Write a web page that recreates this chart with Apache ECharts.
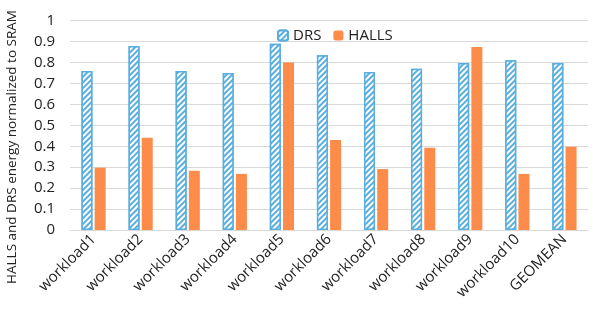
<!DOCTYPE html>
<html><head><meta charset="utf-8">
<script src="https://cdn.jsdelivr.net/npm/echarts@6/dist/echarts.min.js"></script>
<style>html,body{margin:0;padding:0;background:#fff}#c{width:604px;height:314px}</style>
</head><body><div id="c"></div>
<script>
const categories = ['workload1','workload2','workload3','workload4','workload5','workload6','workload7','workload8','workload9','workload10','GEOMEAN'];
const drsValues = [0.76,0.879,0.76,0.75,0.89,0.835,0.755,0.77,0.798,0.811,0.798];
const hallsValues = [0.298,0.441,0.283,0.268,0.80,0.43,0.291,0.393,0.874,0.268,0.398];
const yTicks = [0,0.1,0.2,0.3,0.4,0.5,0.6,0.7,0.8,0.9,1];
const yTitle = 'HALLS and DRS energy normalized to SRAM';

const font = 'Open Sans';
const chart = echarts.init(document.getElementById('c'), null, {renderer:'canvas'});
chart.setOption({
  animation:false,
  textStyle:{fontFamily:font},
  legend:{
    top:23, left:272, itemWidth:10, itemHeight:10, itemGap:12,
    textStyle:{fontSize:15, color:'#222', fontFamily:font},
    data:['DRS','HALLS']
  },
  grid:{left:70, right:16, top:20.7, bottom:84, containLabel:false},
  xAxis:{
    type:'category', data:categories,
    axisLine:{lineStyle:{color:'#d9d9d9', width:1}},
    axisTick:{show:false},
    axisLabel:{rotate:45, fontSize:15, color:'#222', margin:7, interval:0, fontFamily:font}
  },
  yAxis:{
    type:'value', min:0, max:1, interval:0.1,
    axisLine:{show:false}, axisTick:{show:false},
    splitLine:{lineStyle:{color:'#d9d9d9', width:1}},
    axisLabel:{fontSize:15, color:'#222', margin:15, fontFamily:font,
      formatter:v=>{const t=yTicks.find(x=>Math.abs(x-v)<1e-9);return t===undefined?'':String(t);}}
  },
  graphic:[{type:'text', x:12, y:147, rotation:Math.PI/2,
    style:{text:yTitle, fontSize:13.5, fontFamily:font, fill:'#222', align:'center', verticalAlign:'middle'}}],
  series:[
    {name:'DRS', type:'bar', data:drsValues, barWidth:11, barGap:'20%',
      itemStyle:{color:'#ffffff', borderColor:'#5aaede', borderWidth:1.5,
        decal:{symbol:'rect', color:'#5aaede', backgroundColor:'#ffffff', dashArrayX:[1,0], dashArrayY:[1.7,1.8], rotation:-Math.PI/4, symbolSize:1}}},
    {name:'HALLS', type:'bar', data:hallsValues, barWidth:11,
      itemStyle:{color:'#fd8c4a'}}
  ]
});
</script></body></html>
